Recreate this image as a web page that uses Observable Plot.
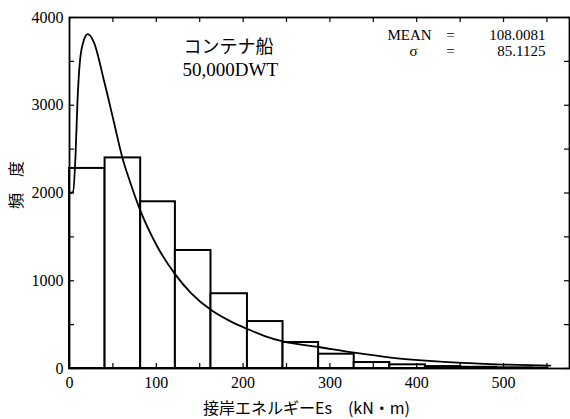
<!DOCTYPE html>
<html>
<head>
<meta charset="utf-8">
<script src="https://cdn.jsdelivr.net/npm/d3@7"></script>
<script src="https://cdn.jsdelivr.net/npm/@observablehq/plot@0.6"></script>
<style>
  html, body { margin: 0; padding: 0; background: #fff; }
  #chart { width: 570px; height: 419px; }
</style>
</head>
<body>
<div id="chart"></div>
<script>
// Histogram bins (kN·m) and frequencies
const binStart = [0, 41, 82, 122, 163, 205, 246, 287, 328, 369, 410, 451, 492, 533];
const binEnd   = [41, 82, 122, 163, 205, 246, 287, 328, 369, 410, 451, 492, 533, 551];
const counts   = [2280, 2400, 1900, 1345, 852, 535, 296, 163, 68, 42, 22, 14, 8, 5];

// Fitted distribution curve
const curveX = [0, 4, 7, 9, 12, 16.5, 21, 28, 40, 51, 61, 70, 82, 100, 122, 140, 164, 185, 205, 225, 247, 287, 328, 370, 410, 452, 500, 554];
const curveY = [2000, 2010, 2440, 3000, 3500, 3740, 3810, 3720, 3270, 2815, 2400, 2120, 1790, 1410, 1070, 860, 660, 540, 450, 370, 305, 245, 180, 125, 90, 63, 45, 33];

// Axis ticks
const xTickLabels = [0, 100, 200, 300, 400, 500];
const yTickLabels = [0, 1000, 2000, 3000, 4000];
const xMinorTicks = [0, 50, 100, 150, 200, 250, 300, 350, 400, 450, 500, 550];
const yMinorTicks = [0, 500, 1000, 1500, 2000, 2500, 3000, 3500, 4000];

// Texts
const shipType = "コンテナ船";
const shipSize = "50,000DWT";
const meanLabel = "MEAN";
const sigmaLabel = "σ";
const meanValue = "108.0081";
const sigmaValue = "85.1125";
const xLabel = "接岸エネルギーEs\u3000(kN・m)";
const yLabel = "頻\u3000度";

const bins = binStart.map((s, i) => ({x1: s, x2: binEnd[i], y: counts[i]}));
const curve = curveX.map((x, i) => ({x, y: curveY[i]}));

const W = 570, H = 419;
const mT = 17, mB = 51, mL = 69, mR = 1;
const fH = H - mT - mB, fW = W - mL - mR;
const serif = "'Liberation Serif', 'Times New Roman', serif";
const jp = "'Noto Sans CJK JP', sans-serif";
const tk = 5;

const chart = Plot.plot({
  width: W, height: H,
  marginTop: mT, marginBottom: mB, marginLeft: mL, marginRight: mR,
  style: {background: "#fff", color: "#000", fontFamily: serif},
  x: {domain: [0, 576]},
  y: {domain: [0, 4000]},
  marks: [
    Plot.rectY(bins, {x1: "x1", x2: "x2", y: "y", fill: "#fff", stroke: "#000", strokeWidth: 2}),
    Plot.line(curve, {x: "x", y: "y", stroke: "#000", strokeWidth: 1.8, curve: "monotone-x"}),
    // inward ticks on all four sides
    Plot.ruleX(xMinorTicks, {x: d => d, insetTop: fH - tk, stroke: "#000", strokeWidth: 1.2}),
    Plot.ruleX(xMinorTicks, {x: d => d, insetBottom: fH - tk, stroke: "#000", strokeWidth: 1.2}),
    Plot.ruleY(yMinorTicks, {y: d => d, insetRight: fW - tk, stroke: "#000", strokeWidth: 1.2}),
    Plot.ruleY(yMinorTicks, {y: d => d, insetLeft: fW - tk, stroke: "#000", strokeWidth: 1.2}),
    Plot.frame({stroke: "#000", strokeWidth: 1.8}),
    Plot.axisX({ticks: xTickLabels, tickSize: 0, tickPadding: 8, fontSize: 16, label: null, tickFormat: d => String(d)}),
    Plot.axisY({ticks: yTickLabels, tickSize: 0, tickPadding: 6, fontSize: 16, label: null, tickFormat: d => String(d)}),
    // annotations
    Plot.text([shipType], {frameAnchor: "top-left", text: d => d, dx: 114, dy: 35, lineAnchor: "bottom", textAnchor: "start", fontSize: 18, fontFamily: jp}),
    Plot.text([shipSize], {frameAnchor: "top-left", text: d => d, dx: 113, dy: 58, lineAnchor: "bottom", textAnchor: "start", fontSize: 19, fontFamily: serif}),
    Plot.text([meanLabel], {frameAnchor: "top-left", text: d => d, dx: 318, dy: 22, lineAnchor: "bottom", textAnchor: "start", fontSize: 15}),
    Plot.text(["="], {frameAnchor: "top-left", text: d => d, dx: 381, dy: 22, lineAnchor: "bottom", textAnchor: "middle", fontSize: 15}),
    Plot.text([meanValue], {frameAnchor: "top-left", text: d => d, dx: 476, dy: 22, lineAnchor: "bottom", textAnchor: "end", fontSize: 15}),
    Plot.text([sigmaLabel], {frameAnchor: "top-left", text: d => d, dx: 344, dy: 38, lineAnchor: "bottom", textAnchor: "middle", fontSize: 15}),
    Plot.text(["="], {frameAnchor: "top-left", text: d => d, dx: 381, dy: 38, lineAnchor: "bottom", textAnchor: "middle", fontSize: 15}),
    Plot.text([sigmaValue], {frameAnchor: "top-left", text: d => d, dx: 476, dy: 38, lineAnchor: "bottom", textAnchor: "end", fontSize: 15}),
    // axis titles
    Plot.text([xLabel], {frameAnchor: "bottom", text: d => d, dx: -13, dy: 45, lineAnchor: "bottom", textAnchor: "middle", fontSize: 16, fontFamily: jp}),
    Plot.text([yLabel], {frameAnchor: "left", text: d => d, dx: -53, dy: -8, rotate: -90, lineAnchor: "middle", textAnchor: "middle", fontSize: 16, fontFamily: jp})
  ]
});
document.getElementById("chart").appendChild(chart);
</script>
</body>
</html>
